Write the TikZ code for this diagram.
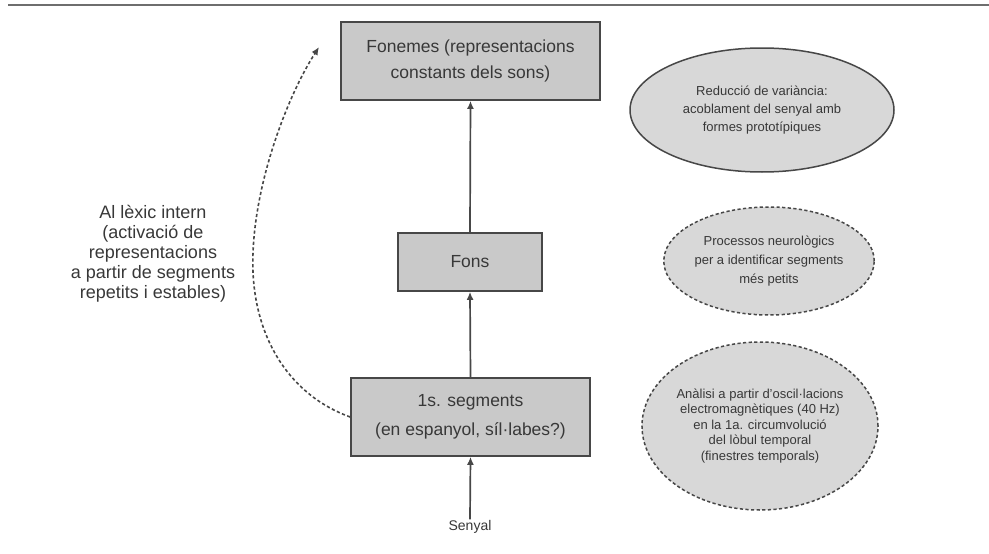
\documentclass[tikz,border=0pt]{standalone}
\usepackage{fontspec}
\setmainfont{Liberation Sans}
\usetikzlibrary{shapes.geometric,arrows.meta}
\definecolor{ink}{HTML}{383838}
\definecolor{edge}{HTML}{474747}
\definecolor{boxfill}{HTML}{C9C9C9}
\definecolor{ovalfill}{HTML}{D8D8D8}
\definecolor{rule}{HTML}{6E6E6E}
\begin{document}
\begin{tikzpicture}[x=1pt,y=-1pt,
  stagebox/.style={draw=edge,line width=1.7pt,fill=boxfill,text=ink,align=center,
    inner sep=0pt,font=\fontsize{17.5}{26}\selectfont},
  oval/.style={ellipse,draw=edge,line width=1.5pt,fill=ovalfill,text=ink,align=center,
    inner sep=0pt},
  dashedoval/.style={oval,dash pattern=on 3.2pt off 2.4pt},
  flow/.style={draw=edge,line width=1.7pt,-{Latex[length=8pt,width=7pt]}},
  lexflow/.style={draw=edge,line width=1.6pt,dash pattern=on 3.2pt off 2.4pt,
    -{Latex[length=8pt,width=7pt]}}]
  \useasboundingbox (0,0) rectangle (989,554);
  % header rule
  \draw[rule,line width=2.5pt] (8,5) -- (989,5);

  % processing stages
  \node[stagebox,minimum width=259pt,minimum height=78pt] (fonemes) at (470.5,61)
    {Fonemes (representacions\\constants dels sons)};
  \node[stagebox,minimum width=144pt,minimum height=58pt] (fons) at (470,262) {Fons};
  \node[stagebox,minimum width=239pt,minimum height=78pt,
    font=\fontsize{17.5}{29}\selectfont] (segments) at (470.5,417)
    {1s. segments\\(en espanyol, síl·labes?)};
  \node[text=ink,font=\fontsize{14}{16}\selectfont,inner sep=1pt] (senyal) at (470,527) {Senyal};

  \draw[flow] (senyal.north) -- (segments.south);
  \draw[flow] (segments.north) -- (fons.south);
  \draw[flow] (fons.north) -- (fonemes.south);

  % side notes
  \node[oval,minimum width=264pt,minimum height=124pt,
    font=\fontsize{13}{18}\selectfont] (reduccio) at (762,110)
    {Reducció de variància:\\acoblament del senyal amb\\formes prototípiques};
  \node[dashedoval,minimum width=158pt,minimum height=108pt,
    font=\fontsize{13}{19}\selectfont] (processos) at (769,261)
    {Processos neurològics\\per a identificar segments\\més petits};
  \node[dashedoval,minimum width=236pt,minimum height=168pt,
    font=\fontsize{13}{15.5}\selectfont] (analisi) at (760,426)
    {Anàlisi a partir d'oscil·lacions\\electromagnètiques (40 Hz)\\en la 1a. circumvolució\\del lòbul temporal\\(finestres temporals)};

  % route to the internal lexicon
  \node[text=ink,align=center,font=\fontsize{18}{20}\selectfont] (lexic) at (153,254)
    {Al lèxic intern\\(activació de\\representacions\\a partir de segments\\repetits i estables)};
  \coordinate (lexend) at (319,47);
  \draw[lexflow] ([yshift=0pt]segments.west) .. controls (292,396) and (256,342) .. (253,272)
    .. controls (250,195) and (285,100) .. (lexend);
\end{tikzpicture}
\end{document}
